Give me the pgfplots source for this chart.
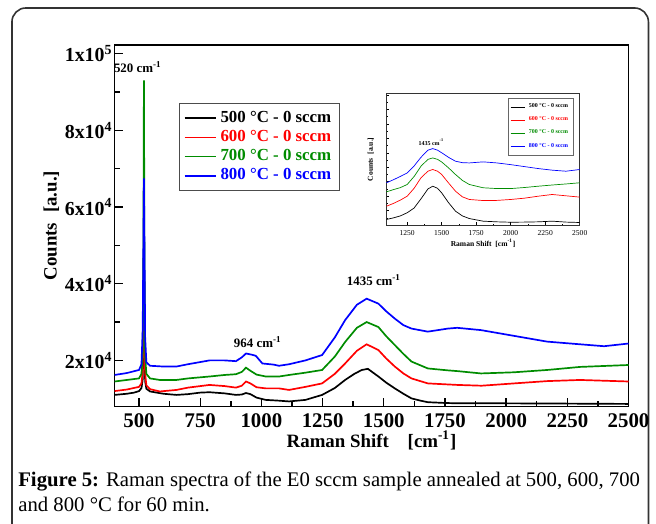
\documentclass[border=0pt]{standalone}
\usepackage{fontspec}
\setmainfont{Liberation Serif}
\usepackage{pgfplots}
\pgfplotsset{compat=1.18}
\definecolor{specgreen}{RGB}{0,140,0}

% Raman spectra, E0 sccm, four annealing temperatures
\pgfplotstableread{
x y
400 11000
450 11300
480 11600
500 12000
510 12800
515 15000
518 25000
520 40000
522 25000
525 14500
530 12600
545 11900
600 11300
653 11000
700 11200
750 11600
788 11700
850 11400
896 11000
920 11100
937 11500
955 11200
980 10300
1018 9700
1072 9500
1113 9300
1180 9700
1248 11000
1300 12800
1342 14900
1380 16500
1410 17500
1435 17800
1478 15800
1510 14200
1545 12700
1580 11300
1613 10100
1650 9500
1680 9100
1750 8900
1802 8800
2000 8800
2200 8750
2500 8650
}\blackdata

\pgfplotstableread{
x y
400 12000
450 12400
500 13100
510 14000
515 17000
518 30000
520 50000
522 30000
525 16500
530 13500
545 12500
585 11900
653 12300
700 12900
788 13600
850 13300
896 12900
920 13400
937 14500
955 14000
980 13000
1018 12700
1072 12700
1113 12300
1180 13100
1248 14000
1300 16500
1342 19200
1390 22500
1430 24200
1478 22700
1510 20500
1545 18400
1580 16600
1613 15300
1680 14000
1802 13600
1900 13400
2032 14000
2167 14600
2302 14900
2400 14700
2500 14500
}\reddata

\pgfplotstableread{
x y
400 14500
450 14900
500 15300
510 16500
515 22000
518 50000
520 93000
522 50000
525 21000
530 16500
545 15300
585 14900
653 14900
700 15300
788 15800
850 16200
896 16400
920 17000
937 18100
955 17300
980 16300
1018 15800
1072 15800
1113 16200
1180 16800
1248 17500
1300 21000
1342 24800
1390 28500
1430 30000
1478 28700
1510 26300
1545 24000
1580 21700
1613 19700
1680 17900
1762 17400
1802 17200
1897 16600
2032 16900
2167 17500
2302 18300
2500 18800
}\greendata

\pgfplotstableread{
x y
400 16200
450 16700
500 17500
510 19000
515 28000
518 52000
520 67500
522 52000
525 26000
530 19500
545 18600
600 18400
653 18400
700 19000
788 20000
850 20000
896 19800
920 20800
937 21800
960 21500
977 21200
1004 19200
1050 18900
1072 18600
1113 19000
1180 20000
1248 21400
1300 26000
1342 30500
1390 34500
1430 36100
1478 34800
1510 32800
1545 30900
1580 29200
1613 28300
1680 27500
1762 28300
1800 28500
1897 27900
2032 26400
2167 24900
2302 24200
2400 23700
2500 24400
}\bluedata

% inset (arbitrary units)
\pgfplotstableread{
x a b c d
1100 4.3 14.4 25.3 32.2
1150 5.5 16.5 27.0 34.5
1200 7.0 19.0 28.5 37.0
1250 9.4 22.0 30.9 39.7
1300 13.0 28.0 37.0 45.0
1350 20.0 36.0 44.8 51.6
1400 27.5 41.0 50.0 57.0
1435 29.6 42.3 51.1 58.2
1470 28.0 41.0 50.0 57.0
1500 24.5 38.5 48.0 55.0
1550 17.0 32.0 43.5 51.5
1600 10.6 25.8 38.5 48.6
1650 7.0 21.5 34.0 47.5
1700 5.0 19.5 30.9 47.3
1800 3.0 18.7 28.4 48.1
1900 2.5 18.8 27.8 47.3
2000 2.2 19.5 27.8 46.0
2100 2.3 20.5 28.6 44.5
2200 2.5 22.0 29.6 43.0
2300 3.0 23.3 30.5 41.8
2400 2.3 22.3 31.3 41.0
2500 2.0 21.3 32.2 42.3
}\insetdata

\begin{document}
\begin{tikzpicture}
\begin{scope}[x=0.5bp,y=-0.5bp]
\useasboundingbox (0,0) rectangle (656,526);
\draw[line width=0.8bp, black!80, rounded corners=7bp] (12,530) -- (12,8) -- (651,8) -- (651,530);
\node[anchor=base west, font=\fontsize{10.45}{12}\selectfont, inner sep=0pt] at (18,488)
  {\textbf{Figure 5:} Raman spectra of the E0 sccm sample annealed at 500, 600, 700};
\node[anchor=base west, font=\fontsize{10.45}{12}\selectfont, inner sep=0pt] at (18,514)
  {and 800 °C for 60 min.};
\end{scope}

\begin{axis}[
  at={(57.5bp,-204bp)}, anchor=south west,
  scale only axis,
  width=258bp, height=181.5bp,
  xmin=400, xmax=2500,
  ymin=8000, ymax=102300,
  axis line style={line width=0.8bp},
  xtick={500,750,...,2500},
  minor x tick num=1,
  ytick={20000,40000,60000,80000,100000},
  yticklabels={2x10\textsuperscript{4},4x10\textsuperscript{4},6x10\textsuperscript{4},8x10\textsuperscript{4},1x10\textsuperscript{5}},
  minor y tick num=1,
  tick pos=left,
  tick align=inside,
  major tick length=4bp,
  minor tick length=2.5bp,
  tick style={line width=0.7bp, black},
  /pgf/number format/1000 sep={},
  /pgf/number format/assume math mode=true,
  xticklabel style={font=\fontsize{10.5}{12}\selectfont\bfseries},
  yticklabel style={font=\fontsize{10}{12}\selectfont\bfseries, xshift=2.5bp},
  scaled y ticks=false,
  xlabel={Raman Shift\quad[cm\textsuperscript{-1}]},
  ylabel={Counts\; [a.u.]},
  label style={font=\fontsize{9.5}{11}\selectfont\bfseries},
  xlabel style={yshift=5bp},
  ylabel style={yshift=-4bp},
  legend cell align=left,
  legend style={at={(0.126,0.84)}, anchor=north west,
    draw=black!70, line width=0.5bp,
    font=\fontsize{8.5}{9.5}\selectfont\bfseries,
    row sep=-1.5bp, inner sep=2bp},
  legend image code/.code={\draw[#1] (0cm,0cm) -- (0.55cm,0cm);},
]
\addplot[black, line width=0.85bp] table[x=x,y=y] {\blackdata};
\addlegendentry{\textcolor{black}{500 °C - 0 sccm}}
\addplot[red, line width=0.85bp] table[x=x,y=y] {\reddata};
\addlegendentry{\textcolor{red}{600 °C - 0 sccm}}
\addplot[specgreen, line width=0.85bp] table[x=x,y=y] {\greendata};
\addlegendentry{\textcolor{specgreen}{700 °C - 0 sccm}}
\addplot[blue, line width=0.85bp] table[x=x,y=y] {\bluedata};
\addlegendentry{\textcolor{blue}{800 °C - 0 sccm}}
\node[font=\fontsize{6.5}{7}\selectfont\bfseries] at (axis cs:495,96500) {520 cm\textsuperscript{-1}};
\node[font=\fontsize{6.5}{7}\selectfont\bfseries] at (axis cs:985,24700) {964 cm\textsuperscript{-1}};
\node[font=\fontsize{6.5}{7}\selectfont\bfseries] at (axis cs:1460,41000) {1435 cm\textsuperscript{-1}};
\end{axis}

\begin{axis}[
  at={(194bp,-113bp)}, anchor=south west,
  scale only axis,
  width=97bp, height=66bp,
  xmin=1100, xmax=2500,
  ymin=0, ymax=100,
  axis line style={line width=0.4bp, black!80},
  xtick={1250,1500,...,2500},
  minor x tick num=1,
  ytick={0,11,...,100},
  yticklabels={},
  minor y tick num=1,
  tick pos=left,
  tick align=inside,
  major tick length=1.5bp,
  minor tick length=0.8bp,
  tick style={line width=0.3bp, black},
  /pgf/number format/1000 sep={},
  /pgf/number format/assume math mode=true,
  xticklabel style={font=\fontsize{3.8}{4}\selectfont, yshift=1bp},
  xlabel={Raman Shift\enspace[cm\textsuperscript{-1}]},
  ylabel={Counts\enspace[a.u.]},
  label style={font=\fontsize{3.8}{4}\selectfont\bfseries},
  xlabel style={yshift=5bp},
  ylabel style={yshift=-4bp},
  legend cell align=left,
  legend style={at={(0.97,0.97)}, anchor=north east,
    draw=black!60, line width=0.3bp,
    font=\fontsize{3}{3.3}\selectfont\bfseries,
    row sep=-0.8bp, inner sep=0.8bp},
  legend image code/.code={\draw[#1] (0cm,0cm) -- (0.25cm,0cm);},
]
\addplot[black, line width=0.35bp] table[x=x,y=a] {\insetdata};
\addlegendentry{\textcolor{black}{500 °C - 0 sccm}}
\addplot[red, line width=0.35bp] table[x=x,y=b] {\insetdata};
\addlegendentry{\textcolor{red}{600 °C - 0 sccm}}
\addplot[specgreen, line width=0.35bp] table[x=x,y=c] {\insetdata};
\addlegendentry{\textcolor{specgreen}{700 °C - 0 sccm}}
\addplot[blue, line width=0.35bp] table[x=x,y=d] {\insetdata};
\addlegendentry{\textcolor{blue}{800 °C - 0 sccm}}
\node[font=\fontsize{3}{3.3}\selectfont\bfseries] at (axis cs:1425,63) {1435 cm\textsuperscript{-1}};
\end{axis}
\end{tikzpicture}
\end{document}
